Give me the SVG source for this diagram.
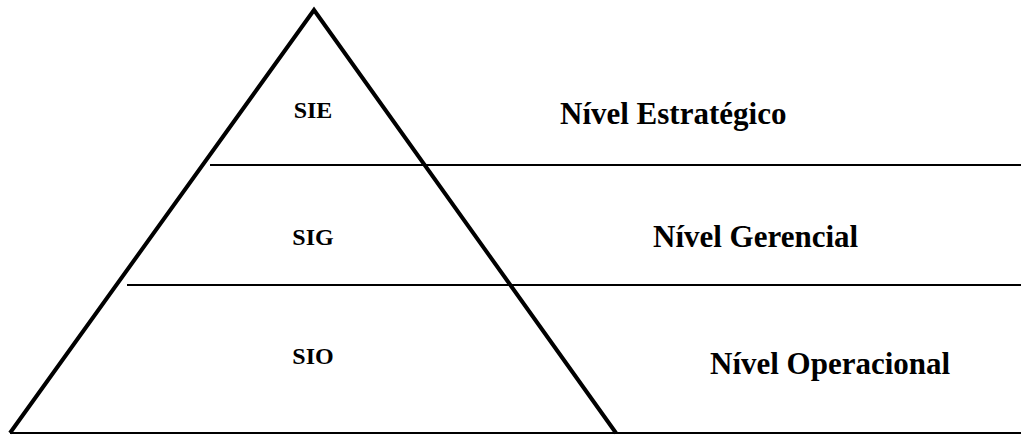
<svg xmlns="http://www.w3.org/2000/svg" width="1021" height="436" viewBox="0 0 1021 436">
<style>
.side{stroke:#000;stroke-width:4;fill:none;stroke-linecap:butt}
.hl{stroke:#000;stroke-width:2;fill:none}
.t{font-family:"Liberation Serif","Times New Roman",serif;font-weight:bold;fill:#000}
.s{font-size:24px;text-anchor:middle}
.n{font-size:31px}
</style>
<rect width="1021" height="436" fill="#fff"/>
<g id="connectors">
<line class="hl" x1="210" y1="165" x2="1021" y2="165"/>
<line class="hl" x1="127" y1="285" x2="1021" y2="285"/>
<line class="hl" x1="10" y1="433" x2="1021" y2="433"/>
</g>
<g id="pyramid">
<polyline class="side" points="10,433 314,10 616,433"/>
</g>
<g id="sie"><text class="t s" x="313" y="118">SIE</text></g>
<g id="sig"><text class="t s" x="313" y="245">SIG</text></g>
<g id="sio"><text class="t s" x="313" y="364">SIO</text></g>
<g id="estrategico"><text class="t n" x="560" y="124">Nível Estratégico</text></g>
<g id="gerencial"><text class="t n" x="653" y="247">Nível Gerencial</text></g>
<g id="operacional"><text class="t n" x="710" y="374">Nível Operacional</text></g>
</svg>
